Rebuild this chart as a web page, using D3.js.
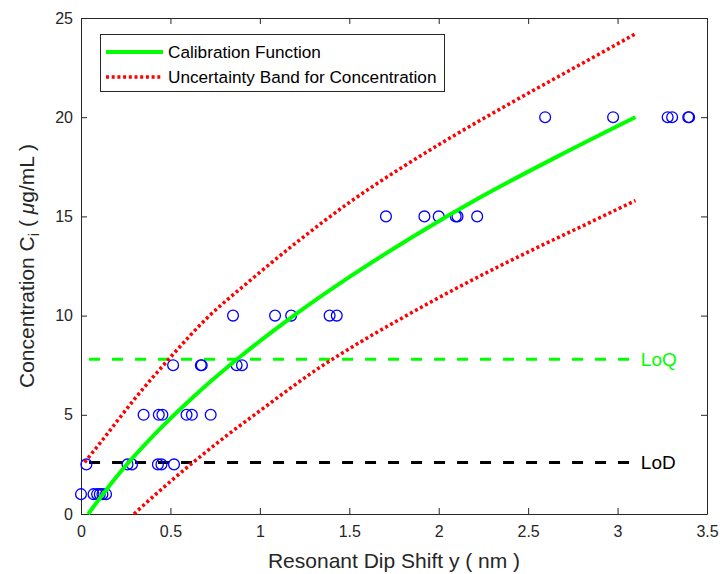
<!DOCTYPE html>
<html>
<head>
<meta charset="utf-8">
<title>Calibration</title>
<script src="https://d3js.org/d3.v7.min.js"></script>
<style>
body { margin: 0; background: #fff; }
svg { font-family: "Liberation Sans", Arial, Helvetica, sans-serif; }
.axis path, .axis line { stroke: #262626; stroke-width: 1px; }
.axis text { fill: #262626; font-size: 16px; }
</style>
</head>
<body>
<script>
// measured points: resonant dip shift (nm) and concentration (ug/mL)
var shift = [0.0, 0.07, 0.09, 0.105, 0.12, 0.14,
             0.03, 0.26, 0.285, 0.43, 0.45, 0.52,
             0.35, 0.435, 0.455, 0.59, 0.62, 0.725,
             0.515, 0.67, 0.675, 0.87, 0.90,
             0.85, 1.085, 1.175, 1.39, 1.43,
             1.705, 1.92, 2.0, 2.095, 2.105, 2.215,
             2.595, 2.975, 3.28, 3.305, 3.395, 3.40];
var conc = [1, 1, 1, 1, 1, 1,
            2.5, 2.5, 2.5, 2.5, 2.5, 2.5,
            5, 5, 5, 5, 5, 5,
            7.5, 7.5, 7.5, 7.5, 7.5,
            10, 10, 10, 10, 10,
            15, 15, 15, 15, 15, 15,
            20, 20, 20, 20, 20, 20];

// calibration function and uncertainty band
var calib = [[0.04, 0], [0.21, 2], [0.41, 4], [0.64, 6], [0.90, 8], [1.19, 10],
             [1.51, 12], [1.86, 14], [2.24, 16], [2.66, 18], [3.10, 20]];
var upper = [[0.02, 2.6], [0.12, 3.73], [0.3, 5.8], [0.5, 7.9], [0.705, 9.88], [0.93, 11.65],
             [1.2, 13.65], [1.5, 15.7], [1.8, 17.5], [2.1, 19.15], [2.4, 20.7], [2.75, 22.45], [3.1, 24.2]];
var lower = [[0.296, 0], [0.45, 1.25], [0.627, 2.6], [0.8, 3.85], [1.0, 5.2], [1.337, 7.4],
             [1.577, 8.75], [1.78, 9.8], [2.0, 10.9], [2.33, 12.45], [2.567, 13.5], [2.8, 14.5], [3.1, 15.8]];

var limitNames = ["LoQ", "LoD"];
var limitValues = [7.8, 2.6];
var limitColors = ["#00ff00", "#000000"];
var limitSpan = [0.045, 3.07];

var xTicks = [0, 0.5, 1, 1.5, 2, 2.5, 3, 3.5];
var yTicks = [0, 5, 10, 15, 20, 25];

var width = 720, height = 574;
var margin = {top: 18, right: 13, bottom: 60, left: 81};
var svg = d3.select("body").append("svg")
    .attr("width", width)
    .attr("height", height);

var x = d3.scaleLinear().domain([0, 3.5]).range([margin.left, width - margin.right]);
var y = d3.scaleLinear().domain([0, 25]).range([height - margin.bottom, margin.top]);

// axes (ticks inside, box on)
svg.append("g").attr("class", "axis")
    .attr("transform", "translate(0," + y(0) + ")")
    .call(d3.axisBottom(x).tickValues(xTicks).tickFormat(d3.format("")).tickSizeInner(-6).tickSizeOuter(0).tickPadding(12));
svg.append("g").attr("class", "axis")
    .attr("transform", "translate(0," + y(25) + ")")
    .call(d3.axisTop(x).tickValues(xTicks).tickFormat("").tickSizeInner(-6).tickSizeOuter(0));
svg.append("g").attr("class", "axis")
    .attr("transform", "translate(" + x(0) + ",0)")
    .call(d3.axisLeft(y).tickValues(yTicks).tickSizeInner(-6).tickSizeOuter(0).tickPadding(8));
svg.append("g").attr("class", "axis")
    .attr("transform", "translate(" + x(3.5) + ",0)")
    .call(d3.axisRight(y).tickValues(yTicks).tickFormat("").tickSizeInner(-6).tickSizeOuter(0));

// LoD / LoQ
limitValues.forEach(function(v, i) {
  svg.append("line")
      .attr("x1", x(limitSpan[0])).attr("x2", x(limitSpan[1]))
      .attr("y1", y(v)).attr("y2", y(v))
      .attr("stroke", limitColors[i])
      .attr("stroke-width", 3)
      .attr("stroke-dasharray", "11,12");
  svg.append("text")
      .attr("x", x(3.13)).attr("y", y(v))
      .attr("dy", "0.36em")
      .attr("fill", limitColors[i])
      .style("font-size", "19px")
      .text(limitNames[i]);
});

// data points
svg.append("g").selectAll("circle")
    .data(shift)
  .enter().append("circle")
    .attr("cx", function(d) { return x(d); })
    .attr("cy", function(d, i) { return y(conc[i]); })
    .attr("r", 5.4)
    .attr("fill", "none")
    .attr("stroke", "#0000ff")
    .attr("stroke-width", 1.3);

var line = d3.line()
    .x(function(d) { return x(d[0]); })
    .y(function(d) { return y(d[1]); })
    .curve(d3.curveMonotoneX);

svg.append("path").datum(calib)
    .attr("d", line)
    .attr("fill", "none")
    .attr("stroke", "#00ff00")
    .attr("stroke-width", 4);
[upper, lower].forEach(function(b) {
  svg.append("path").datum(b)
      .attr("d", line)
      .attr("fill", "none")
      .attr("stroke", "#ff0000")
      .attr("stroke-width", 3.5)
      .attr("stroke-dasharray", "3,2.7");
});

// legend
var legend = svg.append("g");
legend.append("rect")
    .attr("x", 100.5).attr("y", 34.5)
    .attr("width", 344).attr("height", 57)
    .attr("fill", "#fff")
    .attr("stroke", "#262626")
    .attr("stroke-width", 1);
var legendItems = [
  {label: "Calibration Function", color: "#00ff00", dash: null, w: 4},
  {label: "Uncertainty Band for Concentration", color: "#ff0000", dash: "3,2.7", w: 3.5}
];
legendItems.forEach(function(d, i) {
  var ly = 52 + i * 25;
  legend.append("line")
      .attr("x1", 106).attr("x2", 163)
      .attr("y1", ly).attr("y2", ly)
      .attr("stroke", d.color)
      .attr("stroke-width", d.w)
      .attr("stroke-dasharray", d.dash);
  legend.append("text")
      .attr("x", 168).attr("y", ly)
      .attr("dy", "0.36em")
      .attr("fill", "#000")
      .style("font-size", "17.2px")
      .text(d.label);
});

// axis labels
svg.append("text")
    .attr("x", (x(0) + x(3.5)) / 2)
    .attr("y", 568)
    .attr("text-anchor", "middle")
    .attr("fill", "#262626")
    .style("font-size", "21px")
    .text("Resonant Dip Shift y ( nm )");

var ylab = svg.append("text")
    .attr("transform", "translate(34," + (y(0) + y(25)) / 2 + ") rotate(-90)")
    .attr("text-anchor", "middle")
    .attr("fill", "#262626")
    .style("font-size", "21px");
ylab.append("tspan").text("Concentration C");
ylab.append("tspan").attr("dy", 5).style("font-size", "15px").text("i");
ylab.append("tspan").attr("dy", -5).text(" ( ");
ylab.append("tspan").style("font-style", "italic").text("\u03bc");
ylab.append("tspan").text("g/mL )");
</script>
</body>
</html>
